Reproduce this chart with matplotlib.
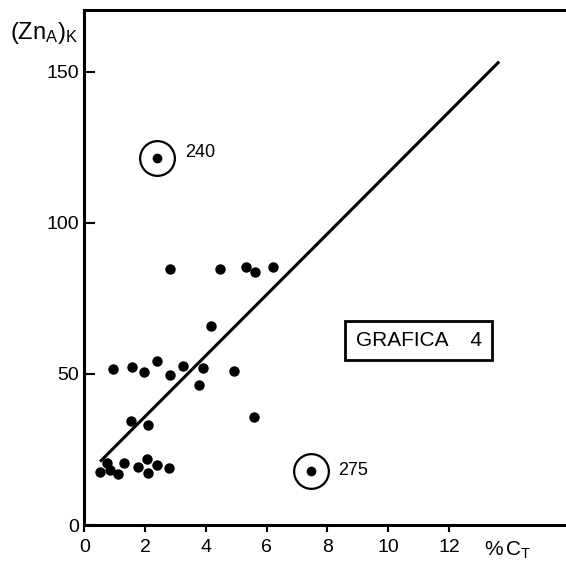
import matplotlib.pyplot as plt

plt.rcParams['font.family'] = ['Liberation Sans', 'DejaVu Sans']
plt.rcParams['mathtext.fontset'] = 'custom'
plt.rcParams['mathtext.rm'] = 'Liberation Sans'
plt.rcParams['mathtext.it'] = 'Liberation Sans'

# Puntos (% C_T, (Zn_A)_K)
ct = [0.52, 0.74, 0.85, 1.12, 1.29, 1.78, 2.06, 2.11, 2.39, 2.80,
      1.53, 2.09, 5.59,
      0.93, 1.57, 1.98, 2.39, 2.83, 3.26, 3.91, 3.76, 4.94,
      4.18,
      2.83, 4.48, 5.31, 5.63, 6.22]
zn = [17.6, 20.4, 18.2, 16.8, 20.4, 19.3, 21.9, 17.1, 19.9, 19.0,
      34.5, 33.1, 35.7,
      51.8, 52.4, 50.7, 54.3, 49.7, 52.8, 52.0, 46.4, 50.9,
      65.9,
      84.7, 84.7, 85.3, 83.9, 85.5]

# Puntos marcados (muestras 240 y 275)
out_ct = [2.39, 7.45]
out_zn = [121.4, 17.9]

# Recta de regresion (extremos)
line_ct = [0.52, 13.65]
line_zn = [21.0, 153.4]

xticks = [0, 2, 4, 6, 8, 10, 12]
yticks = [0, 50, 100, 150]

fig = plt.figure(figsize=(5.66, 5.65), dpi=100)
ax = fig.add_axes([84.3 / 566, 40 / 565, 1 - 84.3 / 566, 515 / 565])

ax.plot(line_ct, line_zn, color="black", lw=2.2, solid_capstyle="butt")
ax.plot(ct, zn, "o", color="black", ms=7.5, mew=0)
ax.plot(out_ct, out_zn, "o", color="black", ms=7, mew=0)
ax.plot(out_ct, out_zn, "o", mfc="none", mec="black", ms=25, mew=1.6)

ax.text(3.32, 123.2, "240", fontsize=13, va="center", ha="left")
ax.text(8.35, 17.9, "275", fontsize=13, va="center", ha="left")

ax.text(11.0, 61.1, "GRAFICA    4", fontsize=15, ha="center", va="center",
        bbox=dict(boxstyle="square,pad=0.5", fc="white", ec="black", lw=2))

ax.set_xlim(0, 15.85)
ax.set_ylim(0, 170.5)
ax.set_xticks(xticks)
ax.set_yticks(yticks)
ax.tick_params(axis="x", direction="out", length=5, width=1.5, labelsize=14, pad=5)
ax.tick_params(axis="y", direction="in", length=8, width=1.5, labelsize=14, pad=4)

for s in ["left", "bottom", "top"]:
    ax.spines[s].set_linewidth(2.2)
ax.spines["right"].set_visible(False)

ax.text(-2.45, 163, r"$(\mathrm{Zn_A})_\mathrm{K}$", fontsize=17, ha="left",
        va="center", clip_on=False)
ax.text(13.16, -8.5, r"$\%\,\mathrm{C_T}$", fontsize=15, ha="left",
        va="center", clip_on=False)

fig.savefig("out.png", dpi=100)
